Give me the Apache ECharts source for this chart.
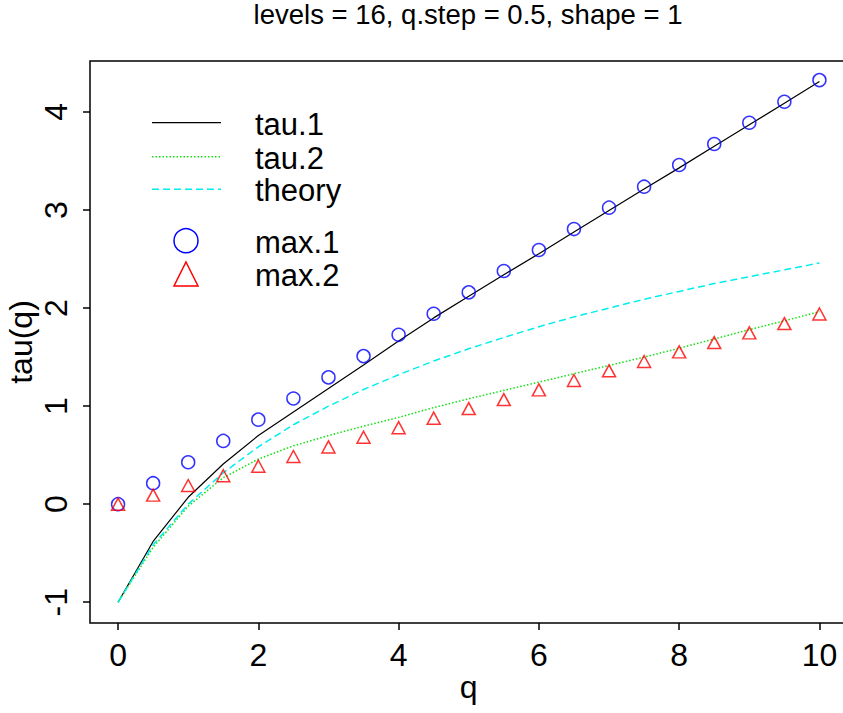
<!DOCTYPE html>
<html>
<head>
<meta charset="utf-8">
<script src="https://cdn.jsdelivr.net/npm/echarts@6/dist/echarts.min.js"></script>
<style>html,body{margin:0;padding:0;background:#fff}#c{width:843px;height:713px}</style>
</head>
<body>
<div id="c"></div>
<script>
var q      = [0,0.5,1,1.5,2,2.5,3,3.5,4,4.5,5,5.5,6,6.5,7,7.5,8,8.5,9,9.5,10];
var tau1   = [-1,-0.38,0.07,0.41,0.70,0.94,1.18,1.42,1.665,1.90,2.12,2.34,2.555,2.775,2.995,3.215,3.43,3.65,3.87,4.09,4.31];
var tau2   = [-1,-0.44,-0.02,0.27,0.46,0.595,0.70,0.795,0.885,0.985,1.075,1.16,1.245,1.33,1.415,1.50,1.59,1.685,1.78,1.87,1.963];
var theory = [-1,-0.415,0,0.32,0.585,0.81,1.0,1.17,1.32,1.46,1.585,1.70,1.81,1.91,2.0,2.09,2.17,2.25,2.32,2.39,2.46];
var max1   = [0,0.214,0.428,0.645,0.862,1.078,1.293,1.51,1.727,1.942,2.16,2.378,2.592,2.806,3.024,3.238,3.459,3.673,3.89,4.104,4.325];
var max2   = [0,0.092,0.19,0.29,0.387,0.486,0.584,0.683,0.78,0.877,0.975,1.067,1.166,1.261,1.36,1.455,1.553,1.648,1.747,1.842,1.94];
var xTicks = [0,2,4,6,8,10];
var yTicks = [-1,0,1,2,3,4];
var titleText = 'levels = 16, q.step = 0.5, shape = 1';
var legendNames = ['tau.1','tau.2','theory','max.1','max.2'];

function pairs(ys){ return q.map(function(x,i){ return [x, ys[i]]; }); }

var FONT = '"Liberation Sans", Arial, Helvetica, sans-serif';
var chart = echarts.init(document.getElementById('c'), null, {renderer:'svg'});
var lx1 = 152, lx2 = 221, tx = 255;
function legText(t, y){
  return {type:'text', x:tx, y:y, style:{text:t, fontFamily:FONT, fontSize:31, lineHeight:28, fill:'#000', verticalAlign:'middle'}};
}
chart.setOption({
  animation:false,
  backgroundColor:'#fff',
  grid:{left:90, top:61, width:757.5, height:562, containLabel:false, outerBoundsMode:'none',
        show:true, borderColor:'#000', borderWidth:1.5, backgroundColor:'transparent'},
  xAxis:{
    type:'value', min:-0.4, max:10.4,
    name:'q', nameLocation:'middle', nameGap:48, nameMoveOverlap:false,
    nameTextStyle:{fontFamily:FONT, fontSize:32, color:'#000'},
    axisLine:{show:false, onZero:false},
    splitLine:{show:false},
    axisTick:{show:true, length:7, customValues:xTicks, lineStyle:{color:'#000', width:1.5}},
    axisLabel:{customValues:xTicks, fontFamily:FONT, fontSize:32, color:'#000', margin:16}
  },
  yAxis:{
    type:'value', min:-1.212, max:4.52,
    name:'tau(q)', nameLocation:'middle', nameGap:53, nameMoveOverlap:false,
    nameTextStyle:{fontFamily:FONT, fontSize:32, color:'#000'},
    axisLine:{show:false, onZero:false},
    splitLine:{show:false},
    axisTick:{show:true, length:7, customValues:yTicks, lineStyle:{color:'#000', width:1.5}},
    axisLabel:{customValues:yTicks, rotate:90, fontFamily:FONT, fontSize:32, color:'#000', margin:18}
  },
  series:[
    {name:'tau.1', type:'line', data:pairs(tau1), showSymbol:false, symbol:'none', lineStyle:{color:'#000', width:1.2}, z:2},
    {name:'tau.2', type:'line', data:pairs(tau2), showSymbol:false, symbol:'none', lineStyle:{color:'#11e011', width:1.5, type:[1.5,2]}, z:2},
    {name:'theory', type:'line', data:pairs(theory), showSymbol:false, symbol:'none', lineStyle:{color:'#00eeee', width:1.5, type:[7,4]}, z:2},
    {name:'max.1', type:'scatter', data:pairs(max1), symbol:'circle', symbolSize:13, itemStyle:{color:'rgba(0,0,0,0)', borderColor:'#0000ff', borderWidth:1.5}, z:3},
    {name:'max.2', type:'scatter', data:pairs(max2), symbol:'triangle', symbolSize:[13,12], itemStyle:{color:'rgba(0,0,0,0)', borderColor:'#ff0000', borderWidth:1.5}, z:3}
  ],
  graphic:[
    {type:'text', x:468, y:14, style:{text:titleText, fontFamily:FONT, fontSize:27.5, fill:'#000', align:'center', verticalAlign:'middle'}},
    {type:'line', shape:{x1:lx1, y1:122.7, x2:lx2, y2:122.7}, style:{stroke:'#000', lineWidth:1.2}},
    {type:'line', shape:{x1:lx1, y1:156.7, x2:lx2, y2:156.7}, style:{stroke:'#11e011', lineWidth:1.5, lineDash:[1.5,2]}},
    {type:'line', shape:{x1:lx1, y1:189.3, x2:lx2, y2:189.3}, style:{stroke:'#00eeee', lineWidth:1.5, lineDash:[7,4]}},
    {type:'circle', shape:{cx:186, cy:240.7, r:12}, style:{fill:'none', stroke:'#0000ff', lineWidth:1.5}},
    {type:'polygon', shape:{points:[[186,262],[198,286],[174,286]]}, style:{fill:'none', stroke:'#ff0000', lineWidth:1.5}},
    legText(legendNames[0], 124),
    legText(legendNames[1], 158),
    legText(legendNames[2], 190),
    legText(legendNames[3], 242),
    legText(legendNames[4], 275)
  ]
});
</script>
</body>
</html>
